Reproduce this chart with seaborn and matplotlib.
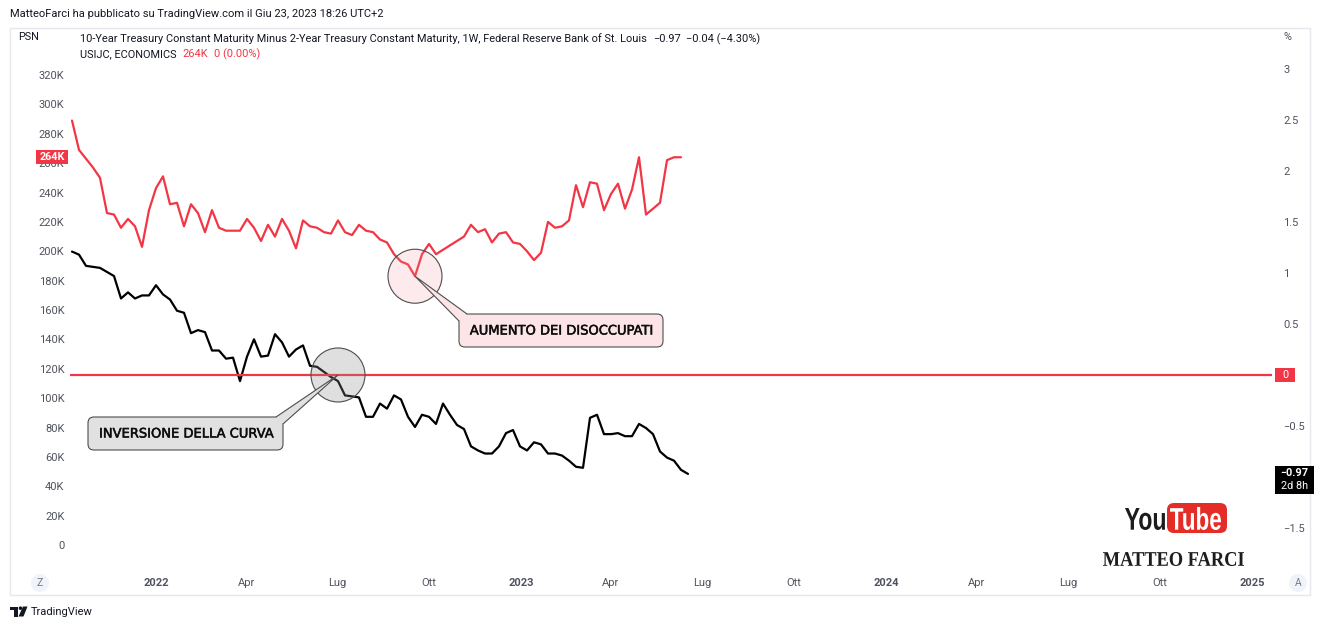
import matplotlib
matplotlib.use("Agg")
import matplotlib.pyplot as plt
import matplotlib.dates as mdates
import matplotlib.patheffects as pe
from matplotlib.patches import Circle, FancyBboxPatch, Polygon, Rectangle, PathPatch
from matplotlib.textpath import TextPath
from matplotlib.font_manager import FontProperties
from matplotlib.transforms import Affine2D
import seaborn as sns
import pandas as pd

# --- dati (settimanali) ---
START = "2021-10-09"

# USIJC - richieste iniziali di sussidio (migliaia)
claims_k = [289, 269, 263, 257, 250, 226, 225, 216, 222, 217,
            203, 228, 243, 251, 232, 233, 217, 232, 226, 213,
            228, 216, 214, 214, 214, 222, 216, 207, 218, 210,
            222, 214, 202, 221, 217, 216, 213, 212, 221, 213,
            211, 218, 214, 213, 208, 206, 198, 193, 191, 183,
            198, 205, 198, 201, 204, 207, 210, 218, 213, 215,
            206, 212, 213, 206, 205, 200, 194, 199, 220, 216,
            217, 221, 245, 230, 247, 246, 228, 239, 246, 229,
            242, 264, 225, 229, 233, 262, 264, 264]

# spread 10Y - 2Y (%)
spread = [1.21, 1.18, 1.07, 1.06, 1.05, 1.01, 0.97, 0.75, 0.81, 0.75,
          0.78, 0.78, 0.88, 0.79, 0.74, 0.63, 0.61, 0.41, 0.44, 0.42,
          0.24, 0.24, 0.16, 0.17, -0.06, 0.18, 0.35, 0.18, 0.19, 0.40,
          0.32, 0.18, 0.25, 0.29, 0.09, 0.08, 0.03, -0.02, -0.06, -0.20,
          -0.21, -0.22, -0.41, -0.41, -0.28, -0.33, -0.20, -0.24, -0.41, -0.51,
          -0.39, -0.41, -0.48, -0.28, -0.39, -0.49, -0.53, -0.70, -0.74, -0.77,
          -0.77, -0.70, -0.57, -0.54, -0.70, -0.74, -0.66, -0.68, -0.77, -0.77,
          -0.79, -0.84, -0.90, -0.91, -0.42, -0.39, -0.58, -0.58, -0.57, -0.60,
          -0.60, -0.48, -0.52, -0.58, -0.75, -0.81, -0.84, -0.93, -0.97]

x_ticks = ["2022-01-01", "2022-04-01", "2022-07-01", "2022-10-01",
           "2023-01-01", "2023-04-01", "2023-07-01", "2023-10-01",
           "2024-01-01", "2024-04-01", "2024-07-01", "2024-10-01",
           "2025-01-01"]
x_labels = ["2022", "Apr", "Lug", "Ott", "2023", "Apr", "Lug", "Ott",
            "2024", "Apr", "Lug", "Ott", "2025"]
left_ticks = list(range(0, 321, 20))
# -1 resta nascosto sotto l'etichetta dell'ultimo valore
right_ticks = [-1.5, -0.5, 0, 0.5, 1, 1.5, 2, 2.5, 3]

RED = "#F23645"
INK = "#131722"
GREY = "#50535e"
EDGE = "#4d4d4d"

sns.set_theme(style="white")
plt.rcParams["font.family"] = ["Roboto", "DejaVu Sans"]

W, H = 1332, 629
fig = plt.figure(figsize=(W / 100, H / 100), dpi=100)
fig.patch.set_facecolor("white")


def frac(x0, y0, x1, y1):
    return [x0 / W, 1 - y1 / H, (x1 - x0) / W, (y1 - y0) / H]


def minus(s):
    return s.replace("-", "\u2212")


ax = fig.add_axes(frac(70, 28, 1272, 570))
ax2 = ax.twinx()

claims_dates = pd.date_range(START, periods=len(claims_k), freq="7D")
spread_dates = pd.date_range(START, periods=len(spread), freq="7D")

sns.lineplot(x=claims_dates, y=claims_k, ax=ax, color=RED, linewidth=1.6)
sns.lineplot(x=spread_dates, y=spread, ax=ax2, color="black", linewidth=1.6)
ax2.axhline(0, color=RED, linewidth=1.6)

ax.set_xlim(mdates.date2num(pd.Timestamp("2021-10-07")),
            mdates.date2num(pd.Timestamp("2025-01-21")))
ax.set_ylim(-17, 352)
ax2.set_ylim(-1.912, 3.402)

ax.set_yticks(left_ticks, [f"{v}K" if v else "0" for v in left_ticks])
ax2.set_yticks(right_ticks, [minus(f"{v:g}") for v in right_ticks])
ax.set_xticks(mdates.date2num(pd.to_datetime(x_ticks)), x_labels)
for lbl in ax.get_xticklabels():
    if lbl.get_text().isdigit():
        lbl.set_fontweight("bold")
        lbl.set_color(INK)

ax.tick_params(axis="both", length=0, labelsize=8, colors=GREY)
ax.tick_params(axis="y", pad=4)
ax.tick_params(axis="x", pad=6)
ax2.tick_params(axis="y", length=0, labelsize=8, colors=GREY, pad=8)
for a in (ax, ax2):
    a.set_xlabel("")
    a.set_ylabel("")
    a.grid(False)
    for s in a.spines.values():
        s.set_visible(False)

# --- overlay in pixel per etichette e annotazioni ---
ov = fig.add_axes([0, 0, 1, 1], zorder=5)
ov.set_xlim(0, W)
ov.set_ylim(H, 0)
ov.axis("off")


def to_px(axis, date, val):
    dx, dy = axis.transData.transform((mdates.date2num(date), val))
    return dx, H - dy


ov.add_patch(Rectangle((10, 28), 1300, 567, fill=False, ec="#e6e8ee", lw=1))

r = fig.canvas.get_renderer()


def chain(x, y, parts, size=7.9):
    for s, c in parts:
        t = ov.text(x, y, s, color=c, fontsize=size, va="center", ha="left")
        x = t.get_window_extent(renderer=r).x1 + 6


ov.text(10, 14, "MatteoFarci ha pubblicato su TradingView.com il Giu 23, 2023 18:26 UTC+2",
        color=INK, fontsize=8, va="center")
ov.text(18, 37, "PSN", color=INK, fontsize=7.8, va="center")
ov.text(1284, 37, "%", color=GREY, fontsize=7.8, va="center")

chg = spread[-1] - spread[-2]
pct = chg / abs(spread[-2]) * 100
chain(80, 39, [("10-Year Treasury Constant Maturity Minus 2-Year Treasury Constant Maturity, "
                "1W, Federal Reserve Bank of St. Louis", INK),
               (minus(f"{spread[-1]:.2f}"), INK),
               (minus(f"{chg:.2f} ({pct:.2f}%)"), INK)])
c_chg = claims_k[-1] - claims_k[-2]
c_pct = c_chg / claims_k[-2] * 100
chain(80, 54, [("USIJC, ECONOMICS", INK),
               (f"{claims_k[-1]}K", RED),
               (f"{c_chg} ({c_pct:.2f}%)", RED)])

# etichette prezzo sugli assi
_, y_last_c = to_px(ax, claims_dates[-1], claims_k[-1])
ov.add_patch(Rectangle((36, y_last_c - 7), 32, 14, fc=RED, ec="none"))
ov.text(52, y_last_c, f"{claims_k[-1]}K", color="white", fontsize=7.8,
        fontweight="bold", ha="center", va="center")

_, y_zero = to_px(ax2, spread_dates[0], 0)
ov.add_patch(Rectangle((1275, y_zero - 7), 20, 14, fc=RED, ec="none"))
ov.text(1285, y_zero, "0", color="white", fontsize=7.8, ha="center", va="center")

_, y_last_s = to_px(ax2, spread_dates[-1], spread[-1])
ov.add_patch(Rectangle((1275, y_last_s - 8), 39, 28, fc="black", ec="none"))
ov.text(1294.5, y_last_s - 0.5, minus(f"{spread[-1]:.2f}"), color="white", fontsize=7.8,
        ha="center", va="center", fontweight="bold")
ov.text(1294.5, y_last_s + 12.5, "2d 8h", color="white", fontsize=7.8,
        ha="center", va="center")


# annotazioni
def callout(cx, cy, box, base, text, fill, circle_fill):
    ov.add_patch(Circle((cx, cy), 27, fc=circle_fill, ec=EDGE, lw=0.8))
    x0, y0, x1, y1 = box
    ov.add_patch(FancyBboxPatch((x0, y0), x1 - x0, y1 - y0,
                                boxstyle="round,pad=0,rounding_size=6",
                                fc=fill, ec=EDGE, lw=0.8))
    ov.add_patch(Polygon([base[0], (cx, cy), base[1]], closed=False,
                         fc=fill, ec=EDGE, lw=0.8))
    ov.text((x0 + x1) / 2, (y0 + y1) / 2 + 0.5, text, color="#0d0d0d", fontsize=9.4,
            family="DejaVu Sans", ha="center", va="center",
            path_effects=[pe.withStroke(linewidth=0.35, foreground="#0d0d0d")])


cx1, cy1 = to_px(ax2, spread_dates[38], 0)
callout(cx1, cy1, (88, 417, 283, 450), [(276, 417), (283, 424)],
        "INVERSIONE DELLA CURVA", "#e1e1e1", (0.55, 0.55, 0.55, 0.28))
cx2, cy2 = to_px(ax, claims_dates[49], claims_k[49])
callout(cx2, cy2, (459, 314, 663, 347), [(467, 314), (459, 321)],
        "AUMENTO DEI DISOCCUPATI", "#fde4e7", (0.96, 0.55, 0.6, 0.18))

# pulsanti asse tempo
for bx, ch in [(40, "Z"), (1298, "A")]:
    ov.add_patch(Circle((bx, 583), 9, fc="#f0f3fa", ec="none"))
    ov.text(bx, 583, ch, color="#787b86", fontsize=7.5, ha="center", va="center")


# logo YouTube / firma
def fit_text(s, x0, x1, ytop, ybot, color, **font):
    tp = TextPath((0, 0), s, size=10, prop=FontProperties(**font))
    ext = tp.get_extents()
    tr = (Affine2D().translate(-ext.x0, -ext.y0)
          .scale((x1 - x0) / ext.width, -(ybot - ytop) / ext.height)
          .translate(x0, ybot))
    ov.add_patch(PathPatch(tr.transform_path(tp), fc=color, ec="none", lw=0))


fit_text("You", 1125, 1165, 508, 530, "#1c1c1c", family="Liberation Sans", weight="bold")
ov.add_patch(FancyBboxPatch((1167, 503), 60, 30, boxstyle="round,pad=0,rounding_size=7",
                            fc="#e52d27", ec="none"))
fit_text("Tube", 1170, 1221, 507, 530, "white", family="Liberation Sans", weight="bold")
fit_text("MATTEO FARCI", 1103, 1244, 552, 566, "#1c1c1c", family="Liberation Serif",
         weight="bold")

# logo TradingView in basso
ov.add_patch(Rectangle((10, 606.5), 7.5, 3.5, fc=INK, ec="none"))
ov.add_patch(Rectangle((13.5, 606.5), 4, 10, fc=INK, ec="none"))
ov.add_patch(Circle((20.5, 608.2), 1.8, fc=INK, ec="none"))
ov.add_patch(Polygon([(23, 606.5), (27.5, 606.5), (23.5, 616.5), (18.5, 616.5)],
                     fc=INK, ec="none"))
ov.text(31, 612, "TradingView", color=INK, fontsize=8, va="center")

fig.savefig("out.png", dpi=100)
